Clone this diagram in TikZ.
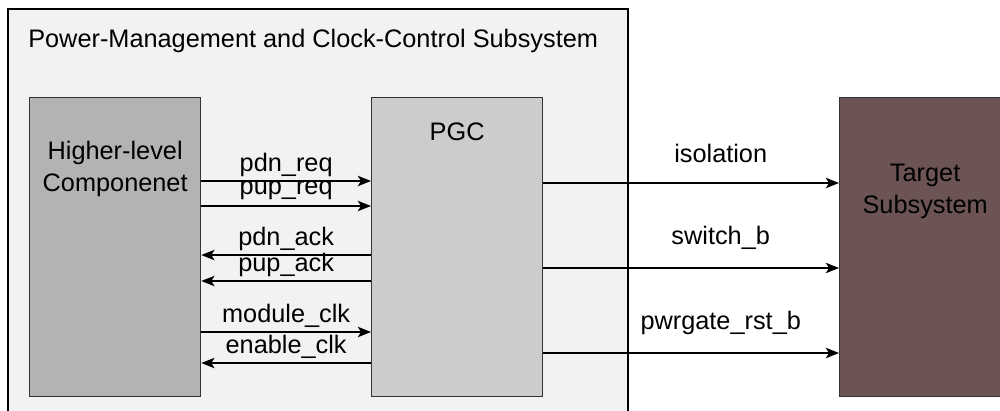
\documentclass[tikz,border=0pt]{standalone}
\usepackage{fontspec}
\setmainfont{Liberation Sans}
\usetikzlibrary{arrows.meta, positioning, calc}

\definecolor{pmgray}{HTML}{F2F2F2}
\definecolor{hlgray}{HTML}{B3B3B3}
\definecolor{pgcgray}{HTML}{CCCCCC}
\definecolor{tgtbrown}{HTML}{6B5453}

\begin{document}
\begin{tikzpicture}[
    x=0.025cm, y=-0.025cm,
    font=\fontsize{18}{22.7}\selectfont,
    block/.style={draw=black!80, line width=0.9pt, minimum width=4.275cm,
                  minimum height=7.475cm, anchor=north west, inner sep=0pt},
    sig/.style={-{Stealth[length=0.33cm, width=0.26cm, inset=0.08cm]}, line width=1pt},
    siglbl/.style={inner sep=0pt, midway, yshift=0.4cm},
    outlbl/.style={inner sep=0pt, pos=0.6, yshift=0.75cm},
]
    \useasboundingbox (0,0) rectangle (1000,410);
    \clip (0,0) rectangle (1000,410);

    %==================== SUBSYSTEM FRAME ====================
    \node[draw, line width=1.4pt, fill=pmgray, minimum width=15.5cm, minimum height=10.6cm,
          anchor=north west, inner sep=0pt] (pmcc) at (7,8) {};
    \node[anchor=west, inner sep=0pt] (title) at (28,41)
        {Power-Management and Clock-Control Subsystem};

    %==================== BLOCKS ====================
    \node[block, fill=hlgray] (hl) at (29,97) {};
    \node[block, fill=pgcgray] (pgc) at (371,97) {};
    \node[block, fill=tgtbrown] (tgt) at (839,97) {};

    \node[align=center, inner sep=0pt] (hltext) at ($(hl.north)+(0,72)$)
        {Higher-level\\Componenet};
    \node[inner sep=0pt] (pgctext) at ($(pgc.north)+(0,35)$) {PGC};
    \node[align=center, inner sep=0pt] (tgttext) at ($(tgt.north)+(0,94)$)
        {Target\\Subsystem};

    %==================== HANDSHAKE SIGNALS ====================
    \draw[sig] ($(hl.north east)+(0,84)$) -- node[siglbl] {pdn\_req} ($(pgc.north west)+(0,84)$);
    \draw[sig] ($(hl.north east)+(0,109)$) -- node[siglbl] {pup\_req} ($(pgc.north west)+(0,109)$);
    \draw[sig] ($(pgc.north west)+(0,158)$) -- node[siglbl] {pdn\_ack} ($(hl.north east)+(0,158)$);
    \draw[sig] ($(pgc.north west)+(0,184)$) -- node[siglbl] {pup\_ack} ($(hl.north east)+(0,184)$);
    \draw[sig] ($(hl.north east)+(0,235)$) -- node[siglbl] {module\_clk} ($(pgc.north west)+(0,235)$);
    \draw[sig] ($(pgc.north west)+(0,266)$) -- node[siglbl] {enable\_clk} ($(hl.north east)+(0,266)$);

    %==================== CONTROL OUTPUTS ====================
    \draw[sig] ($(pgc.north east)+(0,86)$) -- node[outlbl] {isolation} ($(tgt.north west)+(0,86)$);
    \draw[sig] ($(pgc.north east)+(0,171)$) -- node[outlbl] {switch\_b} ($(tgt.north west)+(0,171)$);
    \draw[sig] ($(pgc.north east)+(0,256)$) -- node[outlbl] {pwrgate\_rst\_b} ($(tgt.north west)+(0,256)$);

\end{tikzpicture}
\end{document}
